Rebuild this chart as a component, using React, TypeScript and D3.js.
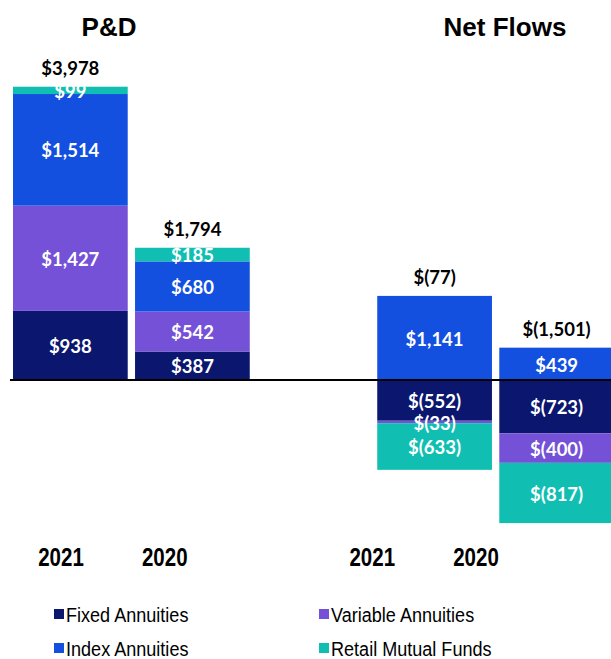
import React from "react";
import * as d3 from "d3";

// bars, in order: P&D 2021, P&D 2020, Net Flows 2021, Net Flows 2020
const groups = ["P&D", "Net Flows"];
const years = ["2021", "2020"];
const barKeys = ["P&D|2021", "P&D|2020", "Net Flows|2021", "Net Flows|2020"];

const fixedAnnuities = [938, 387, -552, -723];
const variableAnnuities = [1427, 542, -33, -400];
const indexAnnuities = [1514, 680, 1141, 439];
const retailMutualFunds = [99, 185, -633, -817];

const colorOf: Record<string, string> = {
  "Fixed Annuities": "#0b176e",
  "Variable Annuities": "#7451d6",
  "Index Annuities": "#1450e0",
  "Retail Mutual Funds": "#10bfb2",
};

// year labels sit on their own point scale (the gap slot keeps the groups apart)
const yearSlots = ["P&D|2021", "P&D|2020", "gap", "Net Flows|2021", "Net Flows|2020"];

// legend laid out in two columns
const legendOrder = [["Fixed Annuities", "Index Annuities"], ["Variable Annuities", "Retail Mutual Funds"]];

const W = 611, H = 659;

function money(v: number) {
  const s = d3.format(",")(Math.abs(v));
  return v < 0 ? `$(${s})` : `$${s}`;
}

export default function App() {
  const rows = barKeys.map((k, i) => ({
    key: k,
    "Fixed Annuities": fixedAnnuities[i],
    "Variable Annuities": variableAnnuities[i],
    "Index Annuities": indexAnnuities[i],
    "Retail Mutual Funds": retailMutualFunds[i],
  }));

  const stacked = d3.stack<any>()
    .keys(["Fixed Annuities", "Variable Annuities", "Index Annuities", "Retail Mutual Funds"])
    .offset(d3.stackOffsetDiverging)(rows);

  const x0 = d3.scaleBand().domain(groups).range([13, 614]).paddingInner(0.35).paddingOuter(0);
  const x1 = d3.scaleBand().domain(years).range([0, x0.bandwidth()]).paddingInner(0.06).paddingOuter(0);
  const xBar = (k: string) => {
    const [g, yr] = k.split("|");
    return (x0(g) ?? 0) + (x1(yr) ?? 0);
  };

  const y = d3.scaleLinear().domain([-2000, 4000]).range([527.5, 85.1]);

  const yearX = d3.scalePoint().domain(yearSlots).range([61, 476]);

  const totals = rows.map((r, i) => ({
    key: r.key,
    total: fixedAnnuities[i] + variableAnnuities[i] + indexAnnuities[i] + retailMutualFunds[i],
    top: d3.max(stacked, s => s[i][1]) as number,
  }));

  const titleX: Record<string, number> = { "P&D": 109, "Net Flows": 505 };

  const valueFont = "Lato, 'Open Sans', sans-serif";
  const sansFont = "'Liberation Sans', Arial, sans-serif";

  return (
    <svg width={W} height={H} style={{ position: "absolute", left: 0, top: 0, background: "#fff" }}>
      {groups.map(g => (
        <text key={g} x={titleX[g]} y={36} textAnchor="middle"
          fontFamily={sansFont} fontWeight="bold" fontSize={26} fill="#000">
          {g}
        </text>
      ))}

      {stacked.map(s => (
        <g key={s.key} fill={colorOf[s.key]}>
          {s.map((d, i) => (
            <rect key={i} x={xBar(barKeys[i])} width={x1.bandwidth()}
              y={y(d[1])} height={Math.max(0, y(d[0]) - y(d[1]))} />
          ))}
        </g>
      ))}

      {stacked.map(s => (
        <g key={s.key + "-lbl"}>
          {s.map((d, i) => {
            const v = (d.data as any)[s.key] as number;
            return (
              <text key={i} x={xBar(barKeys[i]) + x1.bandwidth() / 2}
                y={(y(d[0]) + y(d[1])) / 2 + 1} dy="0.36em" textAnchor="middle"
                fontFamily={valueFont} fontWeight="bold" fontSize={18.5} fill="#fff">
                {money(v)}
              </text>
            );
          })}
        </g>
      ))}

      {totals.map(t => (
        <text key={t.key} x={xBar(t.key) + x1.bandwidth() / 2} y={y(t.top) - 12}
          textAnchor="middle" fontFamily={valueFont} fontWeight="bold" fontSize={18.5} fill="#000">
          {money(t.total)}
        </text>
      ))}

      <line x1={10} x2={W} y1={y(0)} y2={y(0)} stroke="#000" strokeWidth={2} />

      {barKeys.map(k => (
        <text key={k} transform={`translate(${yearX(k)},566) scale(0.82,1)`} textAnchor="middle"
          fontFamily={sansFont} fontWeight="bold" fontSize={25} fill="#000">
          {k.split("|")[1]}
        </text>
      ))}

      {legendOrder.map((col, ci) => (
        <g key={ci} transform={`translate(${ci === 0 ? 54 : 319},0)`}>
          {col.map((name, ri) => (
            <g key={name} transform={`translate(0,${609 + ri * 34})`}>
              <rect width={10} height={10} fill={colorOf[name]} />
              <text transform="translate(12,13) scale(0.86,1)" fontFamily={sansFont} fontSize={21} fill="#000">
                {name}
              </text>
            </g>
          ))}
        </g>
      ))}
    </svg>
  );
}
